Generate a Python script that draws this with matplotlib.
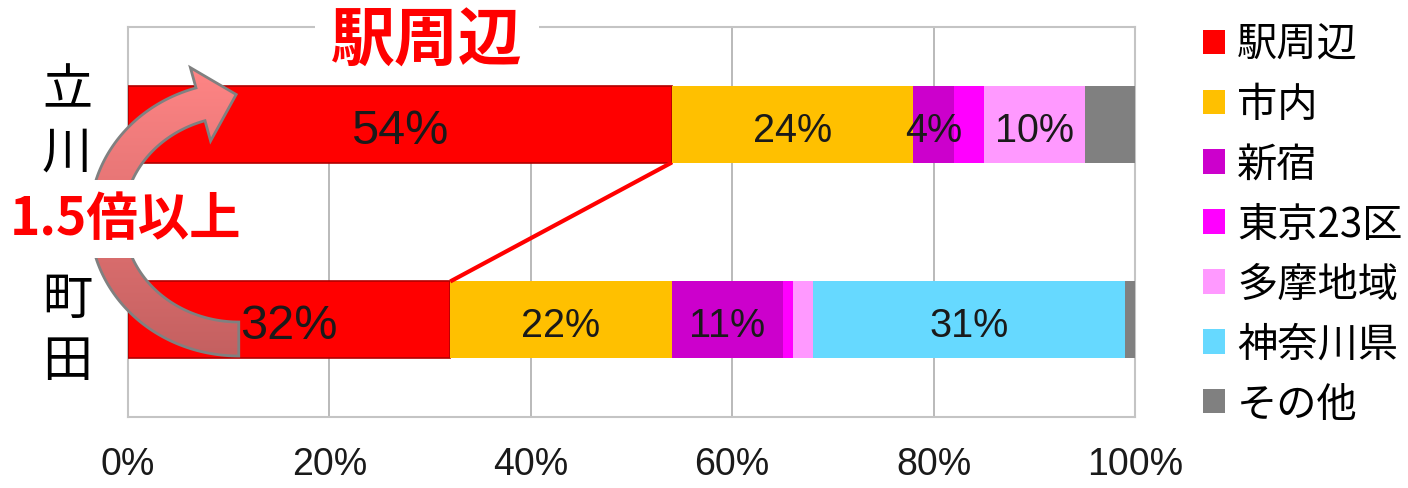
import numpy as np
import matplotlib.pyplot as plt
from matplotlib.patches import Patch, Polygon
from matplotlib.colors import LinearSegmentedColormap
from matplotlib.transforms import ScaledTranslation

# 通勤・通学先の構成比（%）
areas = ["駅周辺", "市内", "新宿", "東京23区", "多摩地域", "神奈川県", "その他"]
colors = ["#ff0000", "#ffc000", "#cc00cc", "#ff00ff", "#ff99ff", "#66d9ff", "#808080"]
stations = ["町\n田", "立\n川"]
machida = [32, 22, 11, 1, 2, 31, 1]
tachikawa = [54, 24, 4, 3, 10, 0, 5]
shares = [machida, tachikawa]
xticks = [0, 20, 40, 60, 80, 100]

JP = "Noto Sans CJK JP"
NUM = "Liberation Sans"

fig = plt.figure(figsize=(14.08, 4.89), dpi=100)
W, H = 1408, 489
ax = fig.add_axes([128 / W, 71 / H, 1007 / W, 390 / H])

bar_h = 0.39
for row, vals in enumerate(shares):
    left = 0
    for k, v in enumerate(vals):
        ec = "#b00000" if k == 0 else "none"
        ax.barh(row, v, left=left, height=bar_h, color=colors[k],
                edgecolor=ec, lw=1.2, zorder=3)
        # その他と小さい区分には数値を付けない
        if v >= 4 and areas[k] != "その他":
            size = 35 if k == 0 else 28.5
            ax.text(left + v / 2, row - 0.03, f"{v}%", ha="center", va="center",
                    fontsize=size, family=NUM, color="#1a1a1a", zorder=4)
        left += v

# 駅周辺の比較線
ax.plot([machida[0], tachikawa[0]], [0 + bar_h / 2, 1 - bar_h / 2],
        color="red", lw=3, zorder=4, solid_capstyle="butt")

ax.set_xlim(0, 100)
ax.set_ylim(-0.5, 1.5)
ax.set_xticks(xticks)
ax.set_xticklabels([f"{t}%" for t in xticks], family=NUM, fontsize=27, color="#1a1a1a")
ax.set_yticks([0, 1])
ax.set_yticklabels(stations, family=JP, fontsize=36, linespacing=1.25)
ax.tick_params(axis="x", length=0, pad=21)
ax.tick_params(axis="y", length=0, pad=26)
# 立川の縦書きラベルは少し上へ
top_lbl = ax.get_yticklabels()[1]
top_lbl.set_transform(top_lbl.get_transform() + ScaledTranslation(0, 10 / 72, fig.dpi_scale_trans))
ax.grid(axis="x", color="#b4b4b4", lw=1.3)
ax.set_axisbelow(True)
for sp in ax.spines.values():
    sp.set_color("#c4c4c4")
    sp.set_linewidth(1.5)

ax.text(29.7, 1.43, "駅周辺", ha="center", va="center", fontsize=46,
        fontweight="bold", color="red", family=JP, zorder=2.8, clip_on=False,
        bbox=dict(boxstyle="square,pad=0.25", fc="white", ec="none"))

handles = [Patch(facecolor=c) for c in colors]
fig.legend(handles, areas, loc="upper left", bbox_to_anchor=(1203 / W, 1 - 25 / H),
           frameon=False, prop={"family": JP, "size": 29}, handlelength=0.55,
           handleheight=0.55, handletextpad=0.3, labelspacing=0.47,
           borderpad=0, borderaxespad=0)

# 曲線矢印（町田 → 立川）をピクセル座標の重ねレイヤーに描く
ov = fig.add_axes([0, 0, 1, 1], zorder=5)
ov.set_xlim(0, W)
ov.set_ylim(0, H)
ov.axis("off")

to_px = ax.transData.transform
tail = to_px((11, -0.10))
top = to_px((11, 1.13))
left_x = to_px((-2.1, 0))[0]
base_x = to_px((7.2, 0))[0]
cx, cy = tail[0], (tail[1] + top[1]) / 2
rx, ry = cx - left_x, (top[1] - tail[1]) / 2
th_end = np.arccos((base_x - cx) / rx)
th = np.linspace(1.5 * np.pi, th_end, 120)
P = np.column_stack([cx + rx * np.cos(th), cy + ry * np.sin(th)])
T = np.column_stack([rx * np.sin(th), -ry * np.cos(th)])
T /= np.linalg.norm(T, axis=1, keepdims=True)
N = np.column_stack([-T[:, 1], T[:, 0]])
w, hw, hl = 17, 38, 37
pe, te, ne = P[-1], T[-1], N[-1]
outline = np.vstack([P + w * N,
                     [pe + hw * ne, pe + hl * te, pe - hw * ne],
                     (P - w * N)[::-1]])

arrow_fill = Polygon(outline, closed=True, fc="none", ec="none")
ov.add_patch(arrow_fill)
grad = np.linspace(0, 1, 256).reshape(-1, 1)
cmap = LinearSegmentedColormap.from_list("arw", ["#c46060", "#ff8585"])
im = ov.imshow(grad, cmap=cmap, origin="lower", aspect="auto", zorder=6,
               extent=(outline[:, 0].min(), outline[:, 0].max(),
                       outline[:, 1].min(), outline[:, 1].max()))
im.set_clip_path(arrow_fill)
ov.add_patch(Polygon(outline, closed=True, fc="none", ec="#808080", lw=2, zorder=7))
ov.set_xlim(0, W)
ov.set_ylim(0, H)

ov.text(125, H - 220, "1.5倍以上", ha="center", va="center", fontsize=37,
        fontweight="bold", color="red", family=JP, zorder=10,
        bbox=dict(boxstyle="square,pad=0.25", fc="white", ec="none"))

fig.savefig("out.png", dpi=100, facecolor="white")
